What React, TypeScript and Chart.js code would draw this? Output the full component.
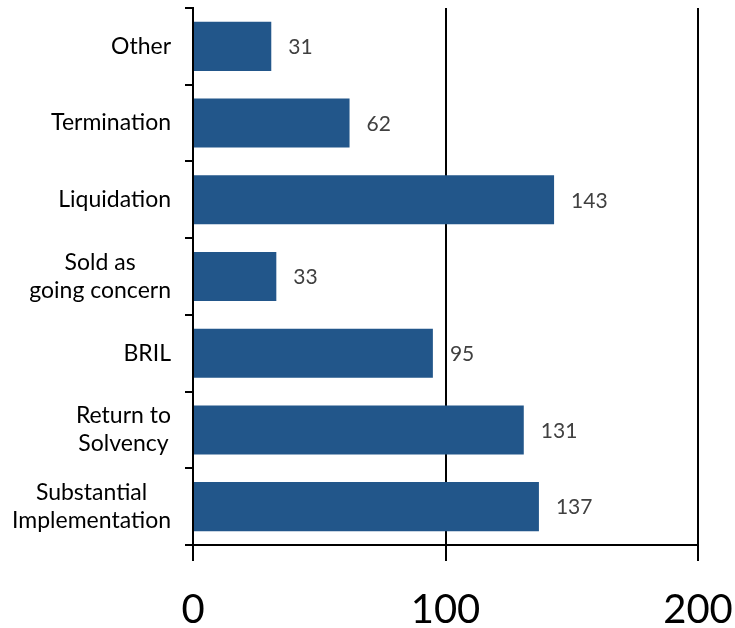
import React, { useEffect, useRef } from "react";
import { Chart, registerables } from "chart.js";

Chart.register(...registerables);

// Categories (multi-line labels are arrays of lines)
const categories: string[][] = [
  ["Other"],
  ["Termination"],
  ["Liquidation"],
  ["Sold as", "going concern"],
  ["BRIL"],
  ["Return to", "Solvency"],
  ["Substantial", "Implementation"],
];

const counts: number[] = [31, 62, 143, 33, 95, 131, 137];

const xTickValues: number[] = [0, 100, 200];

const BAR_COLOR = "#22568A";
const FONT = "Lato, 'Open Sans', sans-serif";

// Draws category labels as right-aligned blocks whose lines are centred on each other
const categoryLabelPlugin = {
  id: "categoryLabels",
  afterDraw(chart: any) {
    const { ctx, chartArea } = chart;
    const yScale = chart.scales.y;
    ctx.save();
    ctx.font = `23px ${FONT}`;
    ctx.fillStyle = "#000000";
    ctx.textAlign = "center";
    ctx.textBaseline = "middle";
    const lineHeight = 28;
    const rightEdge = chartArea.left - 22;
    categories.forEach((lines, i) => {
      const cy = yScale.getPixelForValue(i);
      const blockWidth = Math.max(...lines.map((l) => ctx.measureText(l).width));
      const cx = rightEdge - blockWidth / 2;
      const startY = cy - ((lines.length - 1) * lineHeight) / 2;
      lines.forEach((line, j) => {
        ctx.fillText(line, cx, startY + j * lineHeight);
      });
    });
    ctx.restore();
  },
};

// Draws the value axis numbers below the tick marks
const xLabelPlugin = {
  id: "xLabels",
  afterDraw(chart: any) {
    const { ctx, chartArea } = chart;
    const xScale = chart.scales.x;
    ctx.save();
    ctx.font = `40px ${FONT}`;
    ctx.fillStyle = "#000000";
    ctx.textAlign = "center";
    ctx.textBaseline = "alphabetic";
    xTickValues.forEach((v) => {
      ctx.fillText(String(v), xScale.getPixelForValue(v), chartArea.bottom + 78);
    });
    ctx.restore();
  },
};

// Draws each bar's value to the right of the bar end
const valueLabelPlugin = {
  id: "valueLabels",
  afterDatasetsDraw(chart: any) {
    const { ctx } = chart;
    const meta = chart.getDatasetMeta(0);
    ctx.save();
    ctx.font = `21px ${FONT}`;
    ctx.fillStyle = "#404040";
    ctx.textAlign = "left";
    ctx.textBaseline = "middle";
    meta.data.forEach((bar: any, i: number) => {
      ctx.fillText(String(counts[i]), bar.x + 17, bar.y + 1);
    });
    ctx.restore();
  },
};

export default function App() {
  const canvasRef = useRef<HTMLCanvasElement | null>(null);

  useEffect(() => {
    if (!canvasRef.current) return;
    const chart = new Chart(canvasRef.current, {
      type: "bar",
      data: {
        labels: categories.map((c) => c.join(" ")),
        datasets: [
          {
            data: counts,
            backgroundColor: BAR_COLOR,
            borderWidth: 0,
            barPercentage: 0.64,
            categoryPercentage: 1,
          },
        ],
      },
      options: {
        indexAxis: "y",
        animation: false,
        responsive: true,
        maintainAspectRatio: false,
        layout: { padding: { left: 185, top: 8, right: 37, bottom: 67 } },
        plugins: {
          legend: { display: false },
          tooltip: { enabled: false },
        },
        scales: {
          x: {
            type: "linear",
            min: 0,
            max: 200,
            afterBuildTicks: (scale: any) => {
              scale.ticks = xTickValues.map((v) => ({ value: v }));
            },
            grid: {
              color: "#000000",
              lineWidth: 2,
              drawOnChartArea: true,
              drawTicks: true,
              tickLength: 16,
            },
            border: { display: true, color: "#000000", width: 2 },
            ticks: { display: false },
          },
          y: {
            type: "category",
            offset: true,
            grid: {
              offset: true,
              color: "#000000",
              lineWidth: 2,
              drawOnChartArea: false,
              drawTicks: true,
              tickLength: 8,
            },
            border: { display: true, color: "#000000", width: 2 },
            ticks: { display: false },
          },
        },
      },
      plugins: [categoryLabelPlugin, xLabelPlugin, valueLabelPlugin],
    });
    return () => chart.destroy();
  }, []);

  return (
    <div style={{ position: "absolute", left: 0, top: 0, width: 735, height: 628, background: "#ffffff" }}>
      <canvas ref={canvasRef} />
    </div>
  );
}
